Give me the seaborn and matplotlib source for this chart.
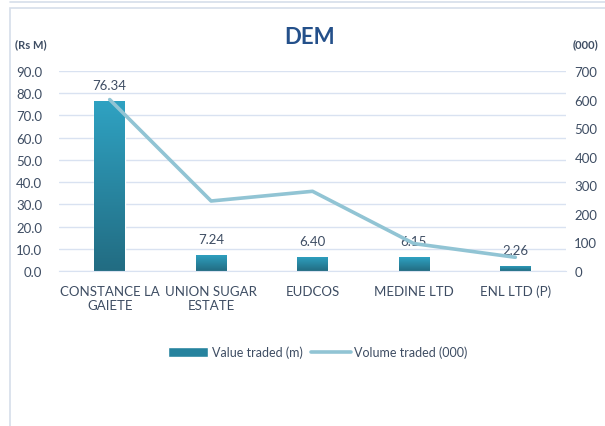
import numpy as np
import pandas as pd
import matplotlib
matplotlib.use("Agg")
import matplotlib.pyplot as plt
from matplotlib.patches import Rectangle
from matplotlib.lines import Line2D
import seaborn as sns

# chart data
companies = ["CONSTANCE LA\nGAIETE", "UNION SUGAR\nESTATE", "EUDCOS", "MEDINE LTD", "ENL LTD (P)"]
value_traded = [76.34, 7.24, 6.40, 6.15, 2.26]      # Rs M
volume_traded = [600, 245, 279, 96, 48]             # (000)
left_ticks = [0, 10, 20, 30, 40, 50, 60, 70, 80, 90]
right_ticks = [0, 100, 200, 300, 400, 500, 600, 700]

df = pd.DataFrame({"company": companies, "value": value_traded, "volume": volume_traded})

sns.set_style("white")
plt.rcParams["font.family"] = ["Lato", "DejaVu Sans"]

text_col = "#3E4D63"
grid_col = "#D9E2F1"
bar_top = "#2FA2C2"
bar_bot = "#226C82"
line_col = "#91C4D4"

fig = plt.figure(figsize=(6.05, 4.27), dpi=100)
fig.patch.set_facecolor("white")

# screenshot frame
fig.add_artist(Line2D([10/605, 1], [1 - 3/427, 1 - 3/427], color="#D6DEEA", lw=1.2))
fig.add_artist(Rectangle((10/605, -0.01), 1.0, 1 - 9/427 + 0.01, fill=False,
                         edgecolor="#D6DEEA", lw=1.2))

ax = fig.add_axes([59/605, 1 - 272/427, (566 - 59)/605, 200/427])
ax.set_facecolor("none")

sns.barplot(data=df, x="company", y="value", color=bar_top, width=0.3, ax=ax,
            saturation=1, zorder=2)

# vertical gradient inside each bar
grad = np.linspace(0, 1, 256).reshape(-1, 1)
cmap = matplotlib.colors.LinearSegmentedColormap.from_list("bar", [bar_bot, bar_top])
bar_info = []
for p in ax.patches:
    x0, y0 = p.get_x(), p.get_y()
    w, h = p.get_width(), p.get_height()
    im = ax.imshow(grad, extent=[x0, x0 + w, y0, y0 + h], origin="lower",
                   cmap=cmap, aspect="auto", zorder=2.5)
    im.set_clip_path(p)
    bar_info.append((x0 + w / 2, h))

ax.set_xlim(-0.5, len(companies) - 0.5)
ax.set_ylim(0, 90)
ax.set_yticks(left_ticks)
ax.set_yticklabels([f"{t:.1f}" for t in left_ticks])
ax.yaxis.grid(True, color=grid_col, lw=1)
ax.set_axisbelow(True)
ax.set_xlabel("")
ax.set_ylabel("")
ax.tick_params(axis="y", length=0, pad=12, labelsize=9.5, labelcolor=text_col)
ax.tick_params(axis="x", length=0, pad=10, labelsize=9.5, labelcolor=text_col)
for s in ax.spines.values():
    s.set_visible(False)
ax.spines["bottom"].set_visible(True)
ax.spines["bottom"].set_color(grid_col)

ax2 = ax.twinx()
sns.lineplot(x=np.arange(len(companies)), y=volume_traded, ax=ax2, color=line_col,
             lw=2.6, zorder=4, solid_joinstyle="round")
ax2.set_ylim(0, 700)
ax2.set_yticks(right_ticks)
ax2.set_yticklabels([str(t) for t in right_ticks])
ax2.tick_params(axis="y", length=0, pad=6, labelsize=9.5, labelcolor=text_col)
for s in ax2.spines.values():
    s.set_visible(False)

# value labels above the bars (on the top axis so they sit with the line)
for xc, h in bar_info:
    ax2.text(xc, (h + 7.2) * 700 / 90, f"{h:.2f}", ha="center", va="center",
             fontsize=9.5, color=text_col, zorder=3)

fig.text(310/605, 1 - 38/427, "DEM", ha="center", va="center", fontsize=16,
         fontweight="bold", color="#24508A")
fig.text(15/605, 1 - 45/427, "(Rs M)", ha="left", va="center", fontsize=8,
         fontweight="bold", color=text_col)
fig.text(573/605, 1 - 45/427, "(000)", ha="left", va="center", fontsize=8,
         fontweight="bold", color=text_col)

handles = [Rectangle((0, 0), 1, 1, facecolor="#26839E"),
           Line2D([0], [0], color=line_col, lw=2.6)]
fig.legend(handles, ["Value traded (m)", "Volume traded (000)"], loc="center",
           bbox_to_anchor=(318/605, 1 - 353/427), ncol=2, frameon=False,
           fontsize=9, handlelength=3.2, handleheight=0.9, handletextpad=0.3,
           columnspacing=0.6, labelcolor=text_col)

fig.savefig("out.png", dpi=100)
